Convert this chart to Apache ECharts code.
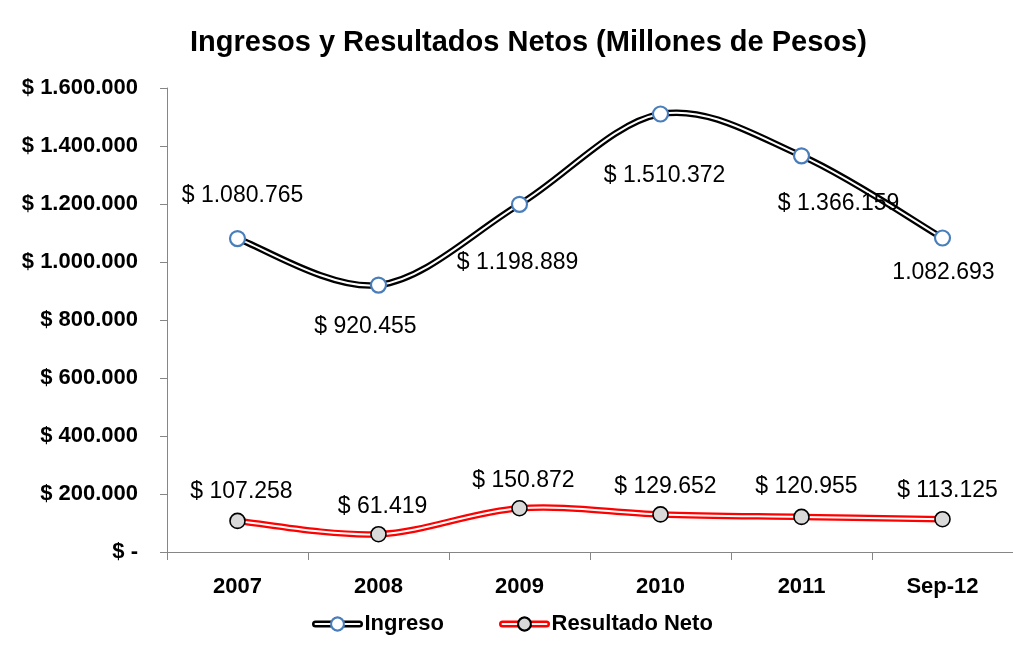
<!DOCTYPE html>
<html>
<head>
<meta charset="utf-8">
<script src="https://cdn.jsdelivr.net/npm/echarts@6/dist/echarts.min.js"></script>
<style>
html,body{margin:0;padding:0;background:#fff;}
#chart{width:1013px;height:656px;}
</style>
</head>
<body>
<div id="chart"></div>
<script>
// ---- data ----
const categories = ['2007', '2008', '2009', '2010', '2011', 'Sep-12'];
const ingreso = [1080765, 920455, 1198889, 1510372, 1366159, 1082693];
const resultadoNeto = [107258, 61419, 150872, 129652, 120955, 113125];
const ingresoLabels = ['$ 1.080.765', '$ 920.455', '$ 1.198.889', '$ 1.510.372', '$ 1.366.159', '1.082.693'];
const resultadoLabels = ['$ 107.258', '$ 61.419', '$ 150.872', '$ 129.652', '$ 120.955', '$ 113.125'];
const yTicks = { min: 0, max: 1600000, interval: 200000 };

// ---- layout (label placement, not data) ----
const ingresoLabelOffsets = [[5, -43], [-13, 42], [-2, 58], [4, 62], [37, 48], [1, 35]];
const resultadoLabelOffsets = [[4, -29], [4, -28], [4, -28], [5, -28], [5, -30], [5, -29]];

function fmtThousands(v) {
  if (v === 0) return '$ -';
  return '$ ' + String(v).replace(/\B(?=(\d{3})+(?!\d))/g, '.');
}

const FONT = '"Liberation Sans", Arial, sans-serif';

function fgData(values, labels, offsets) {
  return values.map((v, i) => ({
    value: v,
    label: { offset: offsets[i], formatter: labels[i] }
  }));
}

// Excel-like (Catmull-Rom) smoothed double line, drawn through the axis scales
function curveSeries(name, values, outerColor) {
  return {
    name: name,
    type: 'custom',
    silent: true,
    z: 2,
    data: values.map((v, i) => [i, v]),
    renderItem: function (params, api) {
      if (params.dataIndex !== 0) return null;
      const pts = values.map((v, i) => api.coord([i, v]));
      const n = pts.length;
      let d = 'M' + pts[0][0] + ' ' + pts[0][1];
      for (let i = 0; i < n - 1; i++) {
        const p0 = pts[Math.max(i - 1, 0)];
        const p1 = pts[i];
        const p2 = pts[i + 1];
        const p3 = pts[Math.min(i + 2, n - 1)];
        const c1x = p1[0] + (p2[0] - p0[0]) / 6;
        const c1y = p1[1] + (p2[1] - p0[1]) / 6;
        const c2x = p2[0] - (p3[0] - p1[0]) / 6;
        const c2y = p2[1] - (p3[1] - p1[1]) / 6;
        d += ' C' + c1x + ' ' + c1y + ' ' + c2x + ' ' + c2y + ' ' + p2[0] + ' ' + p2[1];
      }
      return {
        type: 'group',
        children: [
          { type: 'path', shape: { pathData: d }, style: { fill: 'none', stroke: outerColor, lineWidth: 6.5, lineJoin: 'round' } },
          { type: 'path', shape: { pathData: d }, style: { fill: 'none', stroke: '#fff', lineWidth: 2, lineJoin: 'round' } }
        ]
      };
    }
  };
}

const OUTER_W = 7, INNER_W = 2;
function legendPair(name, left, outerColor) {
  const base = {
    top: 608, padding: 5,
    itemWidth: 44, itemHeight: 16,
    selectedMode: false
  };
  return [
    Object.assign({}, base, {
      left: left,
      data: [{ name: name, lineStyle: { color: outerColor, width: OUTER_W, cap: 'round', opacity: 1 } }],
      textStyle: { fontFamily: FONT, fontSize: 22, fontWeight: 'bold', color: '#000' }
    }),
    Object.assign({}, base, {
      left: left + (OUTER_W - INNER_W) / 2,
      data: [{ name: name, lineStyle: { color: '#fff', width: INNER_W, cap: 'round', opacity: 1 } }],
      textStyle: { fontFamily: FONT, fontSize: 22, fontWeight: 'bold', color: 'rgba(0,0,0,0)' }
    })
  ];
}

const chart = echarts.init(document.getElementById('chart'), null, { renderer: 'canvas' });
chart.setOption({
  animation: false,
  backgroundColor: '#fff',
  title: {
    text: 'Ingresos y Resultados Netos (Millones de Pesos)',
    left: 185, top: 23,
    textStyle: { fontFamily: FONT, fontSize: 29, fontWeight: 'bold', color: '#000' }
  },
  legend: legendPair('Ingreso', 307, '#000').concat(legendPair('Resultado Neto', 494, '#ff0000')),
  grid: { left: 167, right: 0, top: 88, bottom: 104, containLabel: false },
  xAxis: {
    type: 'category',
    data: categories,
    boundaryGap: true,
    axisLine: { lineStyle: { color: '#868686', width: 1 } },
    axisTick: { show: true, alignWithLabel: false, length: 8, lineStyle: { color: '#868686' } },
    axisLabel: { margin: 24, fontFamily: FONT, fontSize: 22, fontWeight: 'bold', color: '#000' },
    splitLine: { show: false }
  },
  yAxis: {
    type: 'value',
    min: yTicks.min, max: yTicks.max, interval: yTicks.interval,
    axisLine: { show: true, lineStyle: { color: '#868686', width: 1 } },
    axisTick: { show: true, length: 7, lineStyle: { color: '#868686' } },
    axisLabel: { margin: 29, fontFamily: FONT, fontSize: 22, fontWeight: 'bold', color: '#000', formatter: fmtThousands },
    splitLine: { show: false }
  },
  series: [
    curveSeries('Ingreso_curve', ingreso, '#000'),
    curveSeries('Resultado_curve', resultadoNeto, '#ff0000'),
    {
      name: 'Ingreso', type: 'line', data: fgData(ingreso, ingresoLabels, ingresoLabelOffsets),
      symbol: 'circle', symbolSize: 15, z: 3,
      lineStyle: { width: 0, opacity: 0 },
      itemStyle: { color: '#fff', borderColor: '#4a7ebb', borderWidth: 2.2 },
      label: { show: true, position: 'inside', fontFamily: FONT, fontSize: 23, color: '#000' }
    },
    {
      name: 'Resultado Neto', type: 'line', data: fgData(resultadoNeto, resultadoLabels, resultadoLabelOffsets),
      symbol: 'circle', symbolSize: 15, z: 3,
      lineStyle: { width: 0, opacity: 0 },
      itemStyle: { color: '#d9d9d9', borderColor: '#000', borderWidth: 1.6 },
      label: { show: true, position: 'inside', fontFamily: FONT, fontSize: 23, color: '#000' }
    }
  ]
});
</script>
</body>
</html>
